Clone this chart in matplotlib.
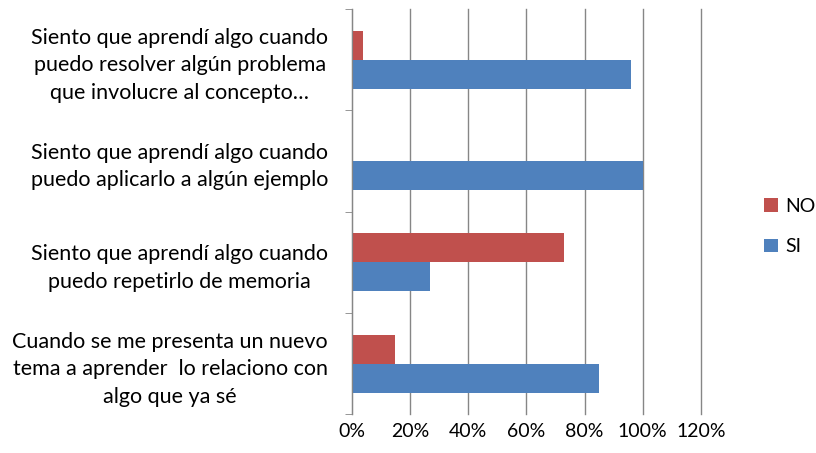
import matplotlib.pyplot as plt
import numpy as np
from matplotlib.ticker import FuncFormatter

plt.rcParams['font.family'] = ['Lato', 'DejaVu Sans']

# Datos (de arriba hacia abajo)
categorias = ['Siento que aprendí algo cuando\npuedo resolver algún problema\nque involucre al concepto…',
              'Siento que aprendí algo cuando\npuedo aplicarlo a algún ejemplo',
              'Siento que aprendí algo cuando\npuedo repetirlo de memoria',
              'Cuando se me presenta un nuevo\ntema a aprender  lo relaciono con\nalgo que ya sé']
si = [0.96, 1.00, 0.27, 0.85]
no = [0.04, 0.00, 0.73, 0.15]

color_si = '#4F81BD'
color_no = '#C0504D'
gris = '#868686'

fig = plt.figure(figsize=(8.16, 4.53), dpi=100)
ax = fig.add_axes([0.431, 0.085, 0.428, 0.895])

n = len(categorias)
y = np.arange(n)[::-1]
h = 0.286
ax.barh(y + h/2, no, height=h, color=color_no, label='NO')
ax.barh(y - h/2, si, height=h, color=color_si, label='SI')

ax.set_xlim(0, 1.2)
ax.set_ylim(-0.5, n - 0.5)
ax.set_xticks(np.arange(0, 1.21, 0.2))
ax.xaxis.set_major_formatter(FuncFormatter(lambda v, p: f'{v*100:.0f}%'))
ax.grid(axis='x', color=gris, linewidth=1)
for gl in ax.get_xgridlines():
    gl.set_clip_on(False)
ax.set_axisbelow(True)

ax.set_yticks(y)
ax.set_yticklabels(categorias, multialignment='center', fontsize=15.5, linespacing=1.45)
ax.set_yticks(np.arange(-0.5, n, 1), minor=True)
ax.tick_params(axis='y', which='major', length=0, pad=17)
ax.tick_params(axis='y', which='minor', length=5, color=gris)
ax.tick_params(axis='x', length=0, labelsize=14, pad=6)

for s in ['top', 'right', 'bottom']:
    ax.spines[s].set_visible(False)
ax.spines['left'].set_color(gris)

handles, labels = ax.get_legend_handles_labels()
fig.legend(handles, labels, loc='center left', bbox_to_anchor=(0.915, 0.5),
           frameon=False, fontsize=14, handlelength=0.7, handleheight=0.7,
           handletextpad=0.4, labelspacing=1.2)

plt.savefig('out.png')
